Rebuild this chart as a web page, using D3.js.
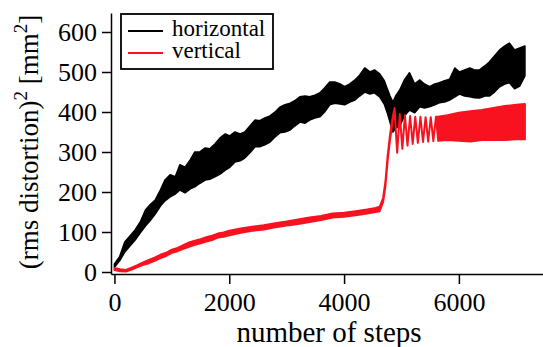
<!DOCTYPE html>
<html>
<head>
<meta charset="utf-8">
<script src="https://cdn.jsdelivr.net/npm/d3@7"></script>
<style>
  html, body { margin: 0; padding: 0; background: #fff; }
  svg { display: block; }
</style>
</head>
<body>
<div id="chart"></div>
<script>
// Values: each series is a fast-oscillating trace,
// kept as a lower / upper envelope per sampled step.
const horizSteps = [0, 90, 180, 270, 360, 450, 540, 620, 710, 800, 880, 970, 1060, 1140, 1230, 1320, 1400, 1490, 1580, 1660,
  1750, 1840, 1930, 2010, 2100, 2190, 2270, 2360, 2450, 2530, 2620, 2710, 2800, 2880, 2970, 3060, 3140, 3230, 3320, 3400,
  3490, 3580, 3660, 3750, 3840, 3930, 4010, 4100, 4190, 4270, 4360, 4450, 4530, 4620, 4700, 4760, 4800, 4850, 4900, 4970,
  5050, 5140, 5230, 5320, 5400, 5490, 5580, 5660, 5750, 5840, 5930, 6010, 6100, 6190, 6270, 6360, 6450, 6530, 6620, 6710,
  6800, 6880, 6970, 7060, 7150];
const horizLow = [12, 28, 50, 65, 80, 98, 115, 128, 145, 165, 178, 188, 195, 205, 198, 208, 213, 222, 230, 232,
  238, 245, 255, 262, 275, 278, 285, 298, 313, 313, 318, 325, 338, 348, 350, 355, 365, 375, 372, 380,
  385, 388, 400, 418, 422, 420, 418, 425, 430, 440, 450, 445, 448, 438, 420, 395, 375, 350, 360, 365,
  390, 405, 398, 413, 410, 413, 418, 423, 425, 430, 438, 445, 440, 438, 436, 435, 440, 440, 450, 463,
  470, 473, 458, 465, 490];
const horizHigh = [20, 38, 75, 90, 105, 125, 155, 168, 180, 205, 230, 243, 238, 268, 262, 280, 300, 300, 310, 308,
  320, 335, 345, 340, 350, 345, 350, 365, 380, 378, 385, 390, 400, 412, 418, 422, 428, 438, 440, 438,
  442, 448, 460, 475, 475, 470, 463, 470, 480, 492, 510, 500, 505, 495, 478, 455, 440, 425, 440, 455,
  480, 498, 470, 480, 470, 463, 470, 473, 478, 482, 510, 500, 505, 510, 505, 505, 515, 525, 540, 555,
  565, 572, 555, 560, 565];

// Where low == high the trace is drawn as a single line (the damped ringing after the jump).
const vertSteps = [0, 100, 200, 300, 400, 500, 600, 700, 800, 900, 1000, 1100, 1200, 1300, 1400, 1500, 1600, 1700, 1800, 1900,
  2000, 2200, 2400, 2600, 2800, 3000, 3200, 3400, 3600, 3800, 4000, 4200, 4400, 4550, 4620, 4680, 4720, 4760, 4800, 4840,
  4880, 4925, 4970, 5015, 5060, 5105, 5150, 5195, 5240, 5285, 5330, 5375, 5420, 5465, 5510, 5555, 5600,
  5640, 5800, 6000, 6200, 6400, 6600, 6800, 7000, 7150];
const vertLow = [5, 2, 1, 6, 12, 18, 22, 28, 35, 40, 48, 52, 58, 63, 68, 72, 76, 80, 86, 88,
  92, 98, 103, 106, 112, 116, 120, 125, 130, 136, 138, 142, 146, 150, 152, 175, 215, 280, 330, 370,
  402, 298, 395, 308, 392, 316, 390, 320, 388, 323, 388, 325, 387, 326, 387, 327, 388,
  328, 330, 328, 326, 330, 330, 330, 332, 332];
const vertHigh = [10, 7, 5, 11, 17, 24, 30, 36, 43, 48, 56, 60, 67, 74, 78, 82, 87, 91, 96, 99,
  103, 109, 113, 117, 122, 126, 131, 136, 140, 146, 148, 152, 156, 160, 163, 185, 225, 292, 342, 382,
  410, 298, 395, 308, 392, 316, 390, 320, 388, 323, 388, 325, 387, 326, 387, 327, 388,
  388, 392, 398, 402, 405, 410, 415, 418, 420];

const seriesNames = ['horizontal', 'vertical'];
const seriesColors = ['#000000', '#f8121f'];
const xTicks = [0, 2000, 4000, 6000];
const yTicks = [0, 100, 200, 300, 400, 500, 600];

// Layout knobs (pixel frame of the plot area).
const layout = {
  width: 543,
  height: 347,
  plot: { left: 111, right: 545, top: 13, bottom: 274 },
  font: "'Liberation Serif', 'Times New Roman', serif",
};

const zip = (steps, low, high) => steps.map((s, i) => ({ step: s, lo: low[i], hi: high[i] }));
const series = [zip(horizSteps, horizLow, horizHigh), zip(vertSteps, vertLow, vertHigh)];

const svg = d3.select('#chart')
  .append('svg')
  .attr('width', layout.width)
  .attr('height', layout.height);

svg.append('rect').attr('width', layout.width).attr('height', layout.height).attr('fill', '#fff');

const x = d3.scaleLinear().domain([-60, 7500]).range([layout.plot.left, layout.plot.right]);
const y = d3.scaleLinear().domain([-5, 647.5]).range([layout.plot.bottom, layout.plot.top]);

/* Traces: filled envelope with a thin outline in the same colour */
const area = d3.area()
  .x((d) => x(d.step))
  .y0((d) => y(d.lo))
  .y1((d) => y(d.hi))
  .curve(d3.curveLinear);

series.forEach((data, i) => {
  svg.append('path')
    .datum(data)
    .attr('fill', seriesColors[i])
    .attr('stroke', seriesColors[i])
    .attr('stroke-width', i === 0 ? 1.6 : 2)
    .attr('stroke-linejoin', 'round')
    .attr('d', area);
});

/* Axes */
const yAxis = svg.append('g')
  .attr('transform', `translate(${layout.plot.left},0)`)
  .call(d3.axisLeft(y).tickValues(yTicks).tickSize(9).tickSizeOuter(0).tickPadding(5));

const xAxis = svg.append('g')
  .attr('transform', `translate(0,${layout.plot.bottom})`)
  .call(d3.axisBottom(x).tickValues(xTicks).tickSize(10).tickSizeOuter(0).tickPadding(9).tickFormat(d3.format('d')));

[yAxis, xAxis].forEach((g) => {
  g.attr('font-family', layout.font).attr('font-size', 26);
  g.select('.domain').attr('stroke', '#000').attr('stroke-width', 1.5);
  g.selectAll('.tick line').attr('stroke', '#000').attr('stroke-width', 1.5);
  g.selectAll('.tick text').style('font-family', layout.font).style('font-size', '26px').attr('fill', '#000');
});

/* Axis titles */
svg.append('text')
  .attr('x', 329)
  .attr('y', 342)
  .attr('text-anchor', 'middle')
  .style('font-family', layout.font)
  .style('font-size', '29px')
  .text('number of steps');

const yTitle = svg.append('text')
  .attr('transform', 'translate(38,142) rotate(-90)')
  .attr('text-anchor', 'middle')
  .style('font-family', layout.font)
  .style('font-size', '27px');
yTitle.append('tspan').text('(rms distortion)');
yTitle.append('tspan').attr('dy', -11).style('font-size', '19px').text('2');
yTitle.append('tspan').attr('dy', 11).text(' [mm');
yTitle.append('tspan').attr('dy', -11).style('font-size', '19px').text('2');
yTitle.append('tspan').attr('dy', 11).text(']');

/* Legend */
const legend = svg.append('g').attr('transform', 'translate(121,14)');

legend.append('rect')
  .attr('width', 152)
  .attr('height', 55)
  .attr('fill', '#fff')
  .attr('stroke', '#000')
  .attr('stroke-width', 1.8);

seriesNames.forEach((name, i) => {
  const row = legend.append('g').attr('transform', `translate(0,${17 + i * 22})`);
  row.append('line')
    .attr('x1', 7)
    .attr('x2', 42)
    .attr('stroke', seriesColors[i])
    .attr('stroke-width', 2);
  row.append('text')
    .attr('x', 51)
    .attr('y', 5)
    .style('font-family', layout.font)
    .style('font-size', '23px')
    .text(name);
});
</script>
</body>
</html>
